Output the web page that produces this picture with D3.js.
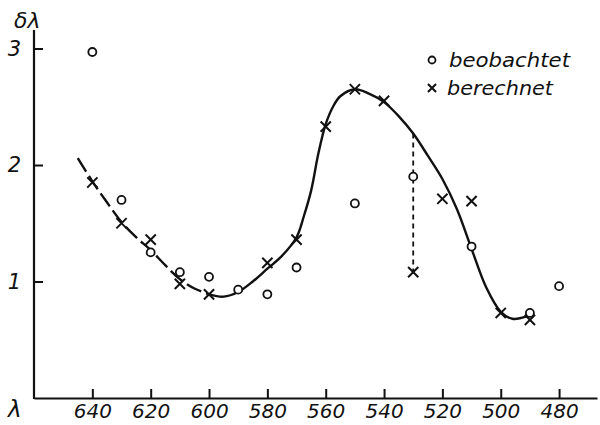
<!DOCTYPE html>
<html>
<head>
<meta charset="utf-8">
<script src="https://cdn.jsdelivr.net/npm/d3@7"></script>
<style>
  html, body { margin: 0; padding: 0; background: #fff; }
  svg { display: block; }
  text { font-family: "DejaVu Sans", sans-serif; font-style: italic; fill: #111; }
</style>
</head>
<body>
<svg id="chart" width="600" height="425"></svg>
<script>
// ---- data ----
const obsLambda = [640, 630, 620, 610, 600, 590, 580, 570, 550, 530, 510, 490, 480];
const obsValue  = [2.97, 1.70, 1.25, 1.08, 1.04, 0.93, 0.89, 1.12, 1.67, 1.90, 1.30, 0.73, 0.96];

const calcLambda = [640, 630, 620, 610, 600, 580, 570, 560, 550, 540, 530, 520, 510, 500, 490];
const calcValue  = [1.85, 1.50, 1.36, 0.98, 0.89, 1.16, 1.36, 2.33, 2.65, 2.55, 1.08, 1.71, 1.69, 0.73, 0.67];

const curveLambda = [645, 640, 635, 630, 625, 620, 615, 610, 605, 600, 595, 590, 585, 580, 575, 570, 567.5, 565, 562.5, 560, 557.5, 555, 550, 545, 540, 535, 530, 525, 520, 515, 510, 505, 500, 496, 491];
const curveValue  = [2.06, 1.86, 1.68, 1.51, 1.38, 1.27, 1.14, 1.02, 0.94, 0.89, 0.87, 0.91, 1.00, 1.11, 1.22, 1.38, 1.56, 1.78, 2.10, 2.35, 2.50, 2.59, 2.65, 2.61, 2.54, 2.42, 2.27, 2.08, 1.88, 1.62, 1.28, 0.95, 0.74, 0.68, 0.70];

const dashedLambda = 530;          // vertical deviation marker
const xTickValues = [640, 620, 600, 580, 560, 540, 520, 500, 480];
const yTickValues = [1, 2, 3];
const legendLabels = ["beobachtet", "berechnet"];

// ---- layout ----
const svg = d3.select("#chart");
const x = d3.scaleLinear().domain([660, 467]).range([34, 597]);
const y = d3.scaleLinear().domain([0, 3]).range([398, 48.5]);

// axes
const xAxis = d3.axisBottom(x).tickValues(xTickValues).tickSizeInner(-9).tickSizeOuter(0).tickPadding(6).tickFormat(d3.format("d"));
const gx = svg.append("g").attr("transform", `translate(0,${y(0)})`).call(xAxis);
gx.select(".domain").attr("stroke", "#111").attr("stroke-width", 2.2);
gx.selectAll(".tick line").attr("stroke", "#111").attr("stroke-width", 2);
gx.selectAll(".tick text").attr("font-size", 20).attr("fill", "#111").attr("font-family", "DejaVu Sans").attr("font-style", "italic");

const yAxis = d3.axisLeft(y).tickValues(yTickValues).tickSizeInner(-9).tickSizeOuter(0).tickPadding(13).tickFormat(d3.format("d"));
const gy = svg.append("g").attr("transform", `translate(${x(660)},0)`).call(yAxis);
gy.select(".domain").remove();
gy.append("line").attr("x1", 0).attr("x2", 0).attr("y1", 30).attr("y2", y(0) + 1).attr("stroke", "#111").attr("stroke-width", 2.2);
gy.selectAll(".tick line").attr("stroke", "#111").attr("stroke-width", 2);
gy.selectAll(".tick text").attr("font-size", 21).attr("fill", "#111").attr("font-family", "DejaVu Sans").attr("font-style", "italic");

// axis titles
svg.append("text").attr("x", 14).attr("y", 28).attr("font-size", 22).text("δλ");
svg.append("text").attr("x", 8).attr("y", 417).attr("font-size", 23).text("λ");

// curve
const curvePts = curveLambda.map((l, i) => [l, curveValue[i]]);
const line = d3.line().x(d => x(d[0])).y(d => y(d[1])).curve(d3.curveCatmullRom.alpha(0.5));
const leftPart = curvePts.filter(d => d[0] >= 600);
const rightPart = curvePts.filter(d => d[0] <= 605);
svg.append("path").attr("d", line(leftPart)).attr("fill", "none").attr("stroke", "#111")
  .attr("stroke-width", 2.4).attr("stroke-dasharray", "16,5");
svg.append("path").attr("d", line(rightPart.slice(1))).attr("fill", "none").attr("stroke", "#111")
  .attr("stroke-width", 2.4);

// dashed vertical deviation line at 530
const ci = curveLambda.indexOf(dashedLambda);
const ki = calcLambda.indexOf(dashedLambda);
svg.append("line")
  .attr("x1", x(dashedLambda)).attr("x2", x(dashedLambda))
  .attr("y1", y(curveValue[ci])).attr("y2", y(calcValue[ki]))
  .attr("stroke", "#111").attr("stroke-width", 1.8).attr("stroke-dasharray", "5,4");

// observed circles
svg.append("g").selectAll("circle").data(obsLambda.map((l, i) => [l, obsValue[i]])).join("circle")
  .attr("cx", d => x(d[0])).attr("cy", d => y(d[1])).attr("r", 4)
  .attr("fill", "#fff").attr("stroke", "#111").attr("stroke-width", 1.8);

// calculated crosses
const cross = d3.symbol().type(d3.symbolX).size(70);
svg.append("g").selectAll("path").data(calcLambda.map((l, i) => [l, calcValue[i]])).join("path")
  .attr("d", cross).attr("transform", d => `translate(${x(d[0])},${y(d[1])})`)
  .attr("fill", "none").attr("stroke", "#111").attr("stroke-width", 2);

// legend
const lg = svg.append("g");
lg.append("circle").attr("cx", 432).attr("cy", 60).attr("r", 3.5).attr("fill", "#fff").attr("stroke", "#111").attr("stroke-width", 1.8);
lg.append("text").attr("x", 449).attr("y", 67).attr("font-size", 19).attr("textLength", 121).attr("lengthAdjust", "spacingAndGlyphs").text(legendLabels[0]);
lg.append("path").attr("d", d3.symbol().type(d3.symbolX).size(45)).attr("transform", "translate(432,88)")
  .attr("fill", "none").attr("stroke", "#111").attr("stroke-width", 2);
lg.append("text").attr("x", 447).attr("y", 95).attr("font-size", 19).attr("textLength", 106).attr("lengthAdjust", "spacingAndGlyphs").text(legendLabels[1]);
</script>
</body>
</html>
